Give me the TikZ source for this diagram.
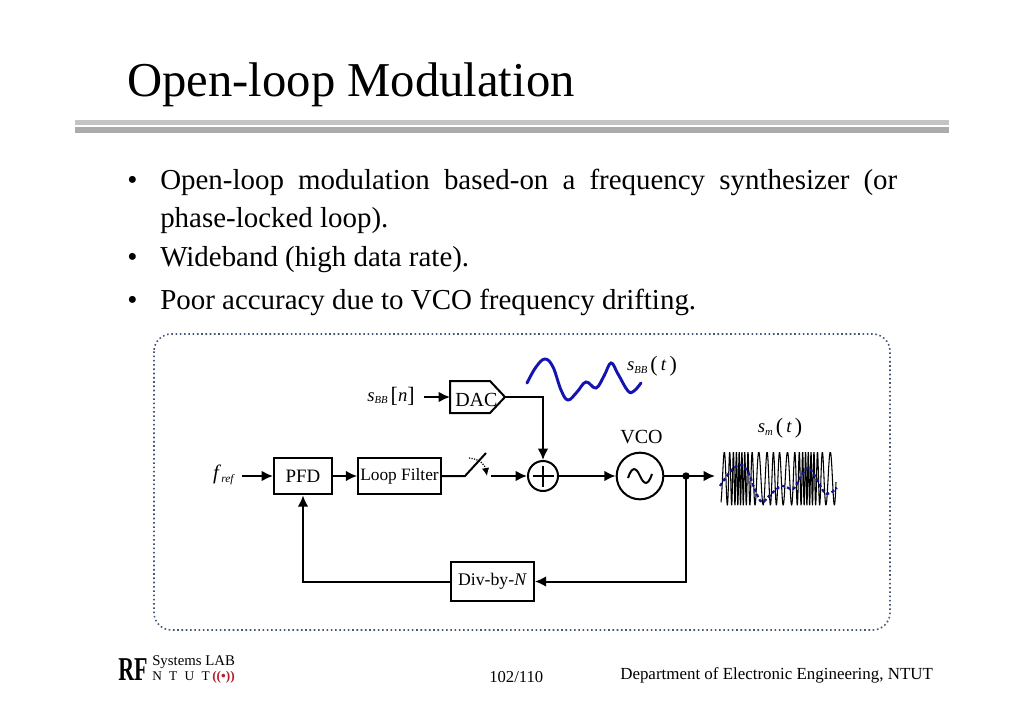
\documentclass[tikz,border=0pt]{standalone}
\usepackage{fontspec}
\setmainfont{Liberation Serif}
\usetikzlibrary{arrows.meta,shapes.geometric,calc}
\definecolor{sigblue}{HTML}{1414B0}
\definecolor{sigdark}{HTML}{16168C}
\definecolor{frameblue}{HTML}{46587A}
\definecolor{ruleA}{HTML}{C4C4C4}
\definecolor{ruleB}{HTML}{ABABAB}
\definecolor{logored}{HTML}{B02030}
\newcommand{\fs}[1]{\fontsize{#1}{#1}\selectfont}
\newcommand{\sigS}[2]{\fs{14}\textit{#1}\raisebox{-2pt}{\fs{8}\textit{#2}}}
\newcommand{\rdpr}[1]{\,{\fs{16.5}\raisebox{-0.7pt}{(}}\,\textit{#1}\,{\fs{16.5}\raisebox{-0.7pt}{)}}}
\newcommand{\sqbr}[1]{\,{\fs{16.5}\raisebox{-0.7pt}{[}}\textit{#1}{\fs{16.5}\raisebox{-0.7pt}{]}}}
\tikzset{
  x=0.75pt,y=-0.75pt,
  wire/.style={line width=1.5pt,line join=miter},
  arr/.style={wire,-{Latex[length=8.5pt,width=8pt]}},
  blockbox/.style={draw,line width=1.5pt,minimum height=27.5pt,inner sep=0pt,font=\fs{14.2}},
  circ/.style={circle,draw,line width=1.5pt,inner sep=0pt},
  lab/.style={inner sep=0pt,font=\fs{14}},
  slidetitle/.style={anchor=base west,inner sep=0pt,font=\fs{36.5}},
  body/.style={anchor=base west,inner sep=0pt,font=\fs{21.7}},
  foot/.style={anchor=base west,inner sep=0pt,font=\fs{12.7}},
}
\begin{document}
\begin{tikzpicture}
\useasboundingbox (0,0) rectangle (1024,724);
\fill[white] (0,0) rectangle (1024,724);
% title and rules
\node[slidetitle] (ttl) at (127,96) {Open-loop Modulation};
\fill[ruleA] (75,120) rectangle (949,125);
\fill[ruleB] (75,127) rectangle (949,133);
% bullets
\node[body] (b1) at (127,189) {•};
\node[body] (t1) at (160,189) {\makebox[552.75pt][s]{Open-loop modulation based-on a frequency synthesizer (or}};
\node[body] (t1b) at (160,227) {phase-locked loop).};
\node[body] (b2) at (127,266) {•};
\node[body] (t2) at (160,266) {Wideband (high data rate).};
\node[body] (b3) at (127,309) {•};
\node[body] (t3) at (160,309) {Poor accuracy due to VCO frequency drifting.};
% frame
\draw[frameblue,line width=1.2pt,dotted,rounded corners=13pt] (154,334) rectangle (890,630);
% blocks
\node[blockbox,minimum width=43.5pt] (pfd) at (303,476) {PFD};
\node[blockbox,minimum width=62pt,font=\fs{13}] (lf) at (399.5,476) {Loop Filter};
\node[blockbox,minimum width=62pt,minimum height=29pt,font=\fs{13.3}] (div) at (492.5,581.5) {Div-by-\textit{N}};
\draw[wire,line join=miter] (450,381) -- (490,381) -- (505,397) -- (490,413) -- (450,413) -- cycle;
\coordinate (dacin) at (450,397);
\coordinate (dacout) at (505,397);
\node[lab,font=\fs{15},anchor=west] (dac) at (455,399.5) {DAC};
\node[circ,minimum size=22.5pt] (add) at (543,476) {};
\draw[line width=1.5pt] (532.5,476) -- (553.5,476) (543,465.5) -- (543,486.5);
\node[circ,minimum size=35pt] (vco) at (640,476) {};
\draw[line width=1.5pt] (628,478) .. controls (632,466) and (636,467) .. (640,476) .. controls (644,485) and (648,486) .. (652,474);
\fill (686,476) circle (3.7);
\coordinate (tap) at (686,476);
\coordinate (out) at (715,476);
% labels
\node[lab] (fref) at (224,475) {\fs{15.5}\textit{f}\raisebox{-2.5pt}{\fs{8.5}\textit{ref}}};
\node[lab] (sn) at (391,396) {\sigS{s}{BB}\sqbr{n}};
\node[lab] (st) at (652,366) {\sigS{s}{BB}\rdpr{t}};
\node[lab] (sm) at (780,428) {\sigS{s}{m}\rdpr{t}};
\node[lab,font=\fs{15}] (vcol) at (641.5,437) {VCO};
% connectors
\coordinate (frefo) at (242,476);
\coordinate (sno) at (424,397);
\draw[arr] (frefo) -- (pfd.west|-frefo);
\draw[arr] (sno) -- (dacin);
\draw[arr] (pfd.east) -- (lf.west);
\coordinate (swa) at (465,476);
\coordinate (swb) at (486,453);
\coordinate (swc) at (491,476);
\draw[wire] (lf.east) -- (swa) -- (swb);
\draw[line width=0.9pt,densely dotted,-{Latex[length=6pt,width=5.5pt]}] (469,458) .. controls (480,459) and (485,465) .. (487,476);
\draw[arr] (swc) -- (add.west);
\draw[arr] (dacout) -| (add.north);
\draw[arr] (add.east) -- (vco.west);
\draw[arr] (vco.east) -- (out);
\draw[arr] (tap) |- (div.east);
\draw[arr] (div.west) -| (pfd.south);
% baseband curve
\draw[sigblue,line width=2.2pt,line cap=round] plot[smooth,tension=0.65] coordinates {(527,383) (536,367) (545,359) (553,367) (561,390) (568,400) (577,392) (586,382) (596,388) (604,376) (611,363) (618,374) (628,391) (634,391) (641,383)};
% FM waveform
\begin{scope}
\clip (720,452) rectangle (837,505.5);
\draw[line width=0.8pt,line join=round] plot[domain=721:836,samples=1200,variable=\t]
 ({\t},{478.5+26.5*sin(360*(0.2*(\t-721)+0.1/0.0924*sin(5.294*(\t-740))+0.07/0.1848*sin(10.588*(\t-740))+0.25))});
\end{scope}
\draw[sigdark,line width=1.7pt,dash pattern=on 2.6pt off 1.8pt] plot[smooth,tension=0.65] coordinates {(720,486) (730,472) (740,465) (748,472) (755,490) (762,502) (771,494) (782,486) (793,489) (800,478) (808,468) (815,476) (824,492) (830,493) (837,488)};
% footer
\node[foot,font=\bfseries\fs{25}] (rf) at (118,680) {\scalebox{0.66}[1]{RF}};
\node[foot,font=\fs{11.1}] (sys) at (152,665) {Systems LAB};
\node[foot,font=\fs{10}] (ntut) at (152,680) {N\hspace{5.5pt}T\hspace{5.5pt}U\hspace{5.5pt}T};
\node[foot,font=\bfseries\fs{10},text=logored] (waves) at (212,680) {((•))};
\node[foot,font=\fs{12.5}] (pg) at (489,682) {102/110};
\node[foot] (dept) at (620,679) {Department of Electronic Engineering, NTUT};
\end{tikzpicture}
\end{document}
